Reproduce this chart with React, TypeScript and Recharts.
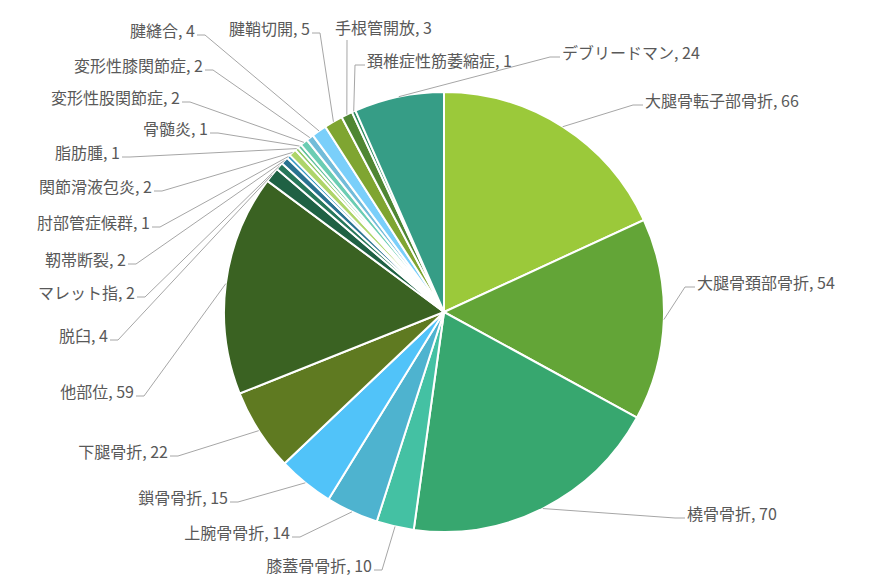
import { PieChart, Pie, Cell } from 'recharts';

// Procedure categories, clockwise from 12 o'clock
const categories = [
  '大腿骨転子部骨折',
  '大腿骨頚部骨折',
  '橈骨骨折',
  '膝蓋骨骨折',
  '上腕骨骨折',
  '鎖骨骨折',
  '下腿骨折',
  '他部位',
  '脱臼',
  'マレット指',
  '靭帯断裂',
  '肘部管症候群',
  '関節滑液包炎',
  '脂肪腫',
  '骨髄炎',
  '変形性股関節症',
  '変形性膝関節症',
  '腱縫合',
  '腱鞘切開',
  '手根管開放',
  '頚椎症性筋萎縮症',
  'デブリードマン',
];

const counts = [66, 54, 70, 10, 14, 15, 22, 59, 4, 2, 2, 1, 2, 1, 1, 2, 2, 4, 5, 3, 1, 24];

const COLORS = [
  '#9BC93A',
  '#63A537',
  '#37A76F',
  '#44C1A3',
  '#4EB3CF',
  '#51C3F9',
  '#5F7A21',
  '#3A6222',
  '#1F6144',
  '#27775A',
  '#2A7390',
  '#3195C3',
  '#AED56A',
  '#8FC865',
  '#5FC09B',
  '#6BCDB3',
  '#72BCD9',
  '#7ACFFA',
  '#7FA531',
  '#4F8633',
  '#2E8A5D',
  '#369D86',
];

// Label placement (text anchor point), like Excel's manual label layout
// side: 'r' = text to the right of leader, 'l' = text to the left, 'b' = leader below text
const labelLayout: { x: number; y: number; side: 'r' | 'l' | 'b'; lx?: number }[] = [
  { x: 645, y: 100, side: 'r' },
  { x: 697, y: 282, side: 'r' },
  { x: 687, y: 513, side: 'r' },
  { x: 372, y: 565, side: 'l' },
  { x: 290, y: 532, side: 'l' },
  { x: 228, y: 497, side: 'l' },
  { x: 168, y: 451, side: 'l' },
  { x: 134, y: 391, side: 'l' },
  { x: 108, y: 335, side: 'l' },
  { x: 135, y: 292, side: 'l' },
  { x: 126, y: 259, side: 'l' },
  { x: 150, y: 222, side: 'l' },
  { x: 152, y: 186, side: 'l' },
  { x: 120, y: 152, side: 'l' },
  { x: 208, y: 128, side: 'l' },
  { x: 180, y: 97, side: 'l' },
  { x: 203, y: 65, side: 'l' },
  { x: 195, y: 30, side: 'l' },
  { x: 310, y: 28, side: 'l' },
  { x: 335, y: 27, side: 'b', lx: 347 },
  { x: 367, y: 60, side: 'r' },
  { x: 562, y: 52, side: 'r' },
];

const chartData = categories.map((name, i) => ({ name, value: counts[i] }));

const RAD = Math.PI / 180;

const renderLabel = (props: any) => {
  const { cx, cy, midAngle, outerRadius, index, name, value } = props;
  const ex = cx + outerRadius * Math.cos(-midAngle * RAD);
  const ey = cy + outerRadius * Math.sin(-midAngle * RAD);
  const pos = labelLayout[index];
  let points = '';
  let anchor: 'start' | 'end' = 'start';
  if (pos.side === 'r') {
    const ly = pos.y + 5;
    points = `${ex},${ey} ${pos.x - 12},${ly} ${pos.x - 2},${ly}`;
    anchor = 'start';
  } else if (pos.side === 'l') {
    const ly = pos.y + 5;
    points = `${ex},${ey} ${pos.x + 10},${ly} ${pos.x + 2},${ly}`;
    anchor = 'end';
  } else {
    points = `${ex},${ey} ${pos.lx},${pos.y + 13}`;
    anchor = 'start';
  }
  return (
    <g key={`label-${index}`}>
      <polyline points={points} fill="none" stroke="#A6A6A6" strokeWidth={1} />
      <text
        x={pos.x}
        y={pos.y}
        textAnchor={anchor}
        dominantBaseline="central"
        fill="#595959"
        fontSize={16}
        fontFamily='"Noto Sans CJK JP", sans-serif'
      >
        {`${name}, ${value}`}
      </text>
    </g>
  );
};

const App = () => {
  return (
    <div style={{ position: 'absolute', left: 0, top: 0, width: 873, height: 588, background: '#fff' }}>
      <PieChart width={873} height={588} margin={{ top: 0, right: 0, bottom: 0, left: 0 }}>
        <Pie
          data={chartData}
          dataKey="value"
          nameKey="name"
          cx={444}
          cy={312}
          outerRadius={220}
          startAngle={90}
          endAngle={-270}
          stroke="#fff"
          strokeWidth={2}
          labelLine={false}
          label={renderLabel}
          isAnimationActive={false}
        >
          {chartData.map((entry, index) => (
            <Cell key={`cell-${index}`} fill={COLORS[index % COLORS.length]} />
          ))}
        </Pie>
      </PieChart>
    </div>
  );
};

export default App;
